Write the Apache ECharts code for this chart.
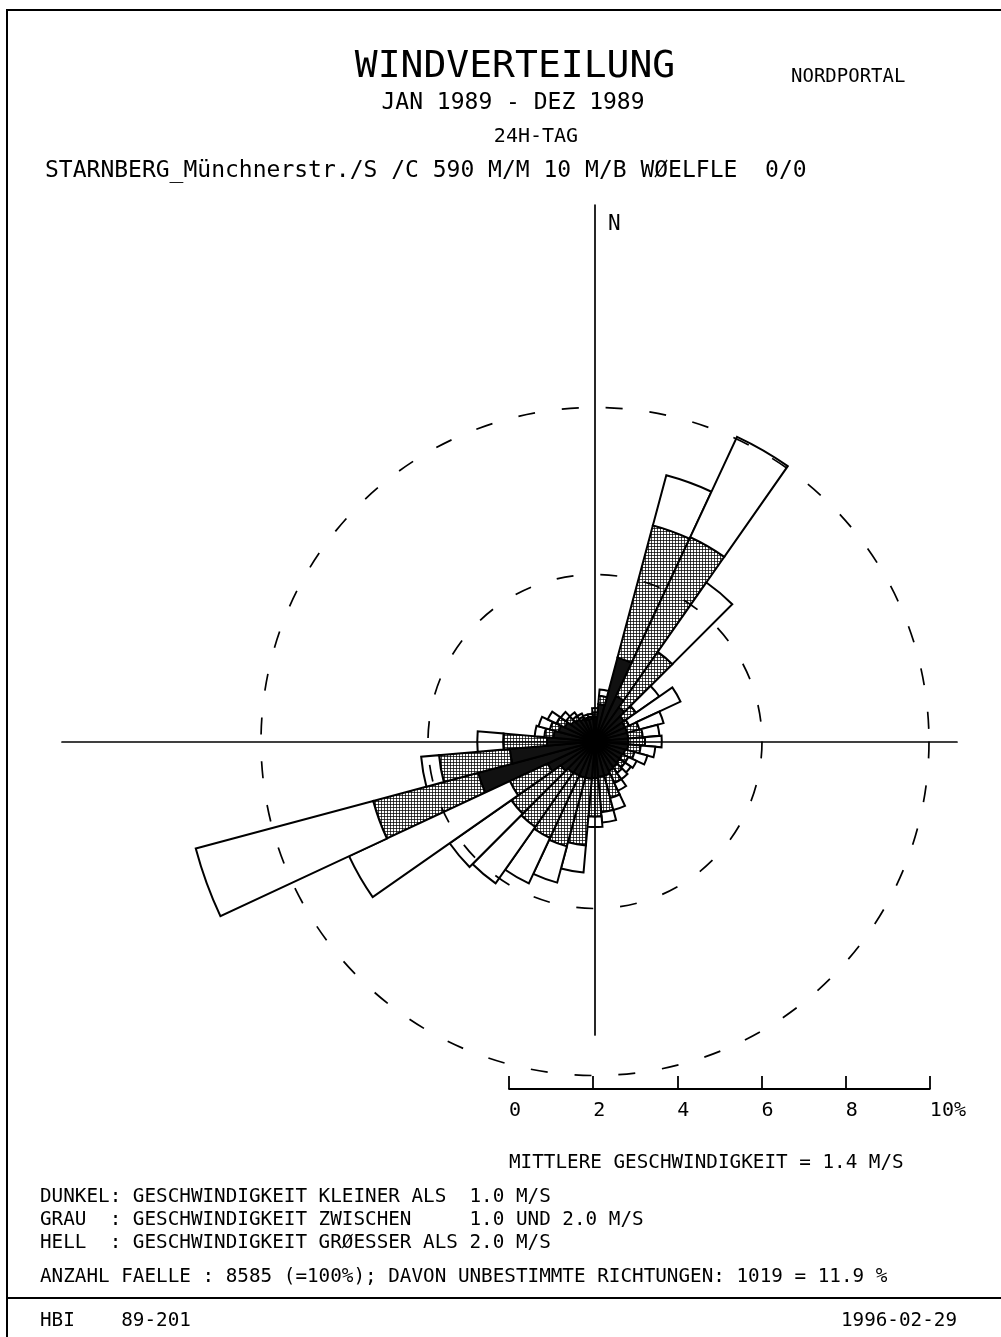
<!DOCTYPE html>
<html>
<head>
<meta charset="utf-8">
<title>Windverteilung Nordportal</title>
<script src="https://cdn.jsdelivr.net/npm/echarts@6/dist/echarts.min.js"></script>
<style>
  html, body { margin: 0; padding: 0; background: #fff; }
  #chart { width: 1001px; height: 1337px; }
</style>
</head>
<body>
<div id="chart"></div>
<script>
// Wind directions in 10° steps, clockwise from north
const directions = ['0', '10', '20', '30', '40', '50', '60', '70', '80', '90', '100', '110',
  '120', '130', '140', '150', '160', '170', '180', '190', '200', '210', '220', '230',
  '240', '250', '260', '270', '280', '290', '300', '310', '320', '330', '340', '350'];

// Frequency (% of all cases) per direction and speed class
// DUNKEL: < 1.0 m/s
const dunkel = [0.60, 0.90, 2.08, 1.20, 1.00, 0.85, 0.80, 0.80, 0.80, 0.80, 0.80, 0.75,
  0.72, 0.72, 0.75, 0.78, 0.85, 0.85, 0.88, 0.90, 0.90, 0.90, 0.92, 1.00,
  1.25, 2.90, 2.05, 1.15, 1.00, 0.90, 0.80, 0.70, 0.65, 0.60, 0.55, 0.55];
// GRAU: 1.0 - 2.0 m/s
const grau = [0.10, 0.20, 3.28, 4.20, 1.62, 0.35, 0.10, 0.30, 0.35, 0.40, 0.30, 0.23,
  0.16, 0.16, 0.17, 0.32, 0.55, 0.85, 0.92, 1.60, 1.70, 1.65, 1.58, 1.45,
  1.00, 2.60, 1.70, 1.05, 0.22, 0.22, 0.22, 0.15, 0.10, 0.06, 0.05, 0.05];
// HELL: > 2.0 m/s
const hell = [0.10, 0.15, 1.24, 2.65, 2.03, 0.68, 1.36, 0.60, 0.40, 0.40, 0.35, 0.32,
  0.22, 0.17, 0.18, 0.20, 0.30, 0.25, 0.25, 0.65, 0.90, 1.20, 1.65, 1.80,
  4.25, 4.40, 0.43, 0.62, 0.23, 0.28, 0.23, 0.15, 0.10, 0.08, 0.07, 0.07];

// Scale bar ticks (percent)
const scaleTicks = [0, 2, 4, 6, 8, 10];

const MONO = "'DejaVu Sans Mono', 'Liberation Mono', monospace";

// fine dot screen used for the middle speed class
function stipple() {
  const c = document.createElement('canvas');
  c.width = 3; c.height = 3;
  const ctx = c.getContext('2d');
  ctx.fillStyle = '#ffffff';
  ctx.fillRect(0, 0, 3, 3);
  ctx.fillStyle = '#444444';
  ctx.fillRect(0, 0, 3, 1);
  ctx.fillRect(0, 0, 1, 3);
  ctx.fillStyle = '#111111';
  ctx.fillRect(0, 0, 1, 1);
  return c;
}

const edge = { borderColor: '#000', borderWidth: 2 };

function classSeries(name, values, fill) {
  return {
    name: name,
    type: 'bar',
    coordinateSystem: 'polar',
    stack: 'wind',
    barCategoryGap: '0%',
    data: values,
    silent: true,
    animation: false,
    itemStyle: Object.assign({ color: fill }, edge)
  };
}

function txt(x, y, text, size, align) {
  return {
    type: 'text', x: x, y: y, silent: true, z: 20,
    style: {
      text: text, fill: '#000', font: size + 'px ' + MONO,
      align: align || 'left', verticalAlign: 'middle'
    }
  };
}

const chart = echarts.init(document.getElementById('chart'), null, { renderer: 'canvas' });

const PX_PER_PCT = 41.75;
const CX = 595, CY = 741.5;
const NONE = 'rgba(0,0,0,0)';

chart.setOption({
  backgroundColor: '#ffffff',
  animation: false,
  polar: { center: [CX, CY], radius: PX_PER_PCT * 10 },
  angleAxis: {
    type: 'category',
    data: directions,
    startAngle: 95,
    clockwise: true,
    axisLine: { show: false },
    axisTick: { show: false },
    axisLabel: { show: false },
    splitLine: { show: false }
  },
  radiusAxis: {
    type: 'value',
    min: 0, max: 10, interval: 4,
    z: 10,
    axisLine: { show: false },
    axisTick: { show: false },
    axisLabel: { show: false },
    splitLine: {
      show: true,
      // rings at 4 % and 8 % only (ticks are 0, 4, 8, 10)
      lineStyle: { color: [NONE, '#000', '#000', NONE], width: 1.7, type: [17, 27] }
    }
  },
  grid: [
    // crosshair through the rose centre
    { left: 62, right: 44, top: 205, bottom: 302 },
    // scale bar
    { left: 509, width: PX_PER_PCT * 10.08, top: 1076, height: 13 }
  ],
  xAxis: [
    {
      gridIndex: 0, type: 'value', z: 10,
      min: -(CX - 62) / PX_PER_PCT, max: (957 - CX) / PX_PER_PCT,
      axisLine: { onZero: true, lineStyle: { color: '#000', width: 1.7 } },
      axisTick: { show: false }, axisLabel: { show: false }, splitLine: { show: false }
    },
    {
      gridIndex: 1, type: 'value', position: 'bottom',
      min: 0, max: 10, interval: 2,
      axisLine: { onZero: false, lineStyle: { color: '#000', width: 1.8 } },
      axisTick: { show: true, inside: true, length: 13, lineStyle: { color: '#000', width: 1.8 } },
      axisLabel: {
        show: true, margin: 12, align: 'left', color: '#000',
        fontFamily: MONO, fontSize: 20,
        formatter: v => (v === 10 ? '10%' : String(v))
      },
      splitLine: { show: false }
    }
  ],
  yAxis: [
    {
      gridIndex: 0, type: 'value', z: 10,
      min: -(1035 - CY) / PX_PER_PCT, max: (CY - 205) / PX_PER_PCT,
      axisLine: { onZero: true, lineStyle: { color: '#000', width: 1.7 } },
      axisTick: { show: false }, axisLabel: { show: false }, splitLine: { show: false }
    },
    {
      gridIndex: 1, type: 'value', show: false, min: 0, max: 1
    }
  ],
  series: [
    classSeries('DUNKEL', dunkel, '#111111'),
    classSeries('GRAU', grau, { image: stipple(), repeat: 'repeat' }),
    classSeries('HELL', hell, '#ffffff'),
    {
      type: 'line', xAxisIndex: 1, yAxisIndex: 1, data: scaleTicks.map(v => [v, 0]),
      showSymbol: false, lineStyle: { opacity: 0 }, silent: true
    }
  ],
  graphic: [
    // sheet frame and footer rule
    { type: 'rect', silent: true, z: 20, shape: { x: 7, y: 10, width: 1010, height: 1340 },
      style: { fill: 'none', stroke: '#000', lineWidth: 2 } },
    { type: 'line', silent: true, z: 20, shape: { x1: 7, y1: 1298, x2: 1001, y2: 1298 },
      style: { stroke: '#000', lineWidth: 2 } },
    txt(515, 67, 'WINDVERTEILUNG', 38, 'center'),
    txt(791, 77, 'NORDPORTAL', 19),
    txt(513, 103, 'JAN 1989 - DEZ 1989', 23, 'center'),
    txt(536, 137, '24H-TAG', 20, 'center'),
    txt(45, 171, 'STARNBERG_Münchnerstr./S /C 590 M/M 10 M/B WØELFLE  0/0', 23),
    txt(608, 225, 'N', 21),
    txt(509, 1163, 'MITTLERE GESCHWINDIGKEIT = 1.4 M/S', 19.3),
    txt(40, 1197, 'DUNKEL: GESCHWINDIGKEIT KLEINER ALS  1.0 M/S', 19.3),
    txt(40, 1220, 'GRAU  : GESCHWINDIGKEIT ZWISCHEN     1.0 UND 2.0 M/S', 19.3),
    txt(40, 1243, 'HELL  : GESCHWINDIGKEIT GRØESSER ALS 2.0 M/S', 19.3),
    txt(40, 1277, 'ANZAHL FAELLE : 8585 (=100%); DAVON UNBESTIMMTE RICHTUNGEN: 1019 = 11.9 %', 19.3),
    txt(40, 1321, 'HBI    89-201', 19.3),
    txt(957, 1321, '1996-02-29', 19.3, 'right')
  ]
});
</script>
</body>
</html>
